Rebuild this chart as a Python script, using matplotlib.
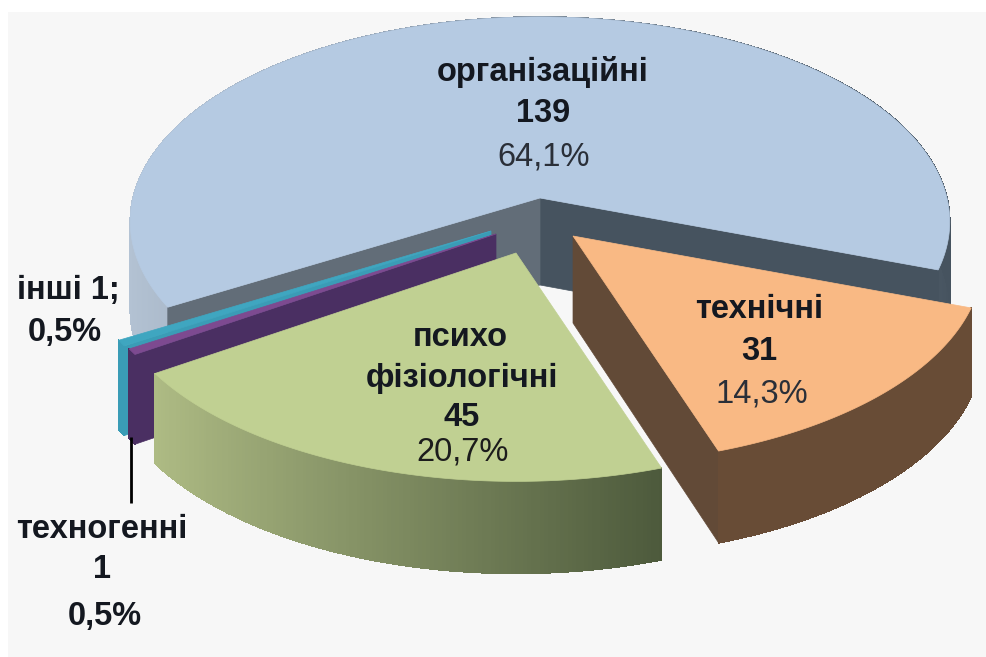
# pie chart of incident causes, drawn as a tilted 3d pie with pulled out slices
import matplotlib
matplotlib.use('Agg')
import matplotlib.pyplot as plt
import numpy as np
from matplotlib.collections import PolyCollection
from matplotlib.patches import Rectangle

categories = ['технічні', 'психо фізіологічні', 'техногенні', 'інші', 'організаційні']
values = [31, 45, 1, 1, 139]
percents = ['14,3%', '20,7%', '0,5%', '0,5%', '64,1%']

# slice styling, same order as categories
topColors = ['#f9b984', '#c0d092', '#7d4a90', '#3fa6c0', '#b5cae2']
rimLeft = ['#684c36', '#aebb84', '#4a2f62', '#3a9cb6', '#b4c3d4']
rimRight = ['#684c36', '#4d5a3c', '#4a2f62', '#3a9cb6', '#46535f']
pullX = [33, -24, -44, -49, 0]
pullY = [38, 55, 36, 33, 0]

# projection of the pie disc onto the picture, in pixels
cx, cy = 540, 198
a, b, k = 407, 202, 0.1156
startAngle = -20.0


def project(t, r=1.0):
    u = r*np.cos(np.radians(t))
    v = r*np.sin(np.radians(t))
    s = 1/(1 + k*v)
    return a*u*s, -b*v*s


def depth(t, r=1.0):
    return 87 - 5*r*np.sin(np.radians(t))


def mix(c1, c2, f):
    c1 = np.array(matplotlib.colors.to_rgb(c1))
    c2 = np.array(matplotlib.colors.to_rgb(c2))
    return tuple(c1 + (c2 - c1)*f)


def drawRim(ax, t0, t1, ox, oy, left, right):
    ts = np.linspace(t0, t1, max(int(abs(t1 - t0))*2, 4))
    us = np.cos(np.radians(ts))
    polys, cols = [], []
    for i in range(len(ts) - 1):
        x0, y0 = project(ts[i])
        x1, y1 = project(ts[i+1])
        d0, d1 = depth(ts[i]), depth(ts[i+1])
        polys.append([(cx+ox+x0, cy+oy+y0), (cx+ox+x1, cy+oy+y1),
                      (cx+ox+x1, cy+oy+y1+d1), (cx+ox+x0, cy+oy+y0+d0)])
        f = (us[i] - us.min())/(us.max() - us.min())
        cols.append(mix(left, right, f))
    # smooth outline under the bands, the bands themselves stay without antialiasing
    xs, ys = project(ts)
    ds = depth(ts)
    ax.fill(np.r_[cx+ox+xs, (cx+ox+xs)[::-1]], np.r_[cy+oy+ys, (cy+oy+ys+ds)[::-1]],
            color=mix(left, right, 0.5), lw=0.5)
    ax.add_collection(PolyCollection(polys, facecolors=cols, edgecolors=cols,
                                     linewidths=0.5, antialiaseds=False))


def drawCut(ax, t, ox, oy, color):
    x, y = project(t)
    d0, d1 = depth(t, 0), depth(t)
    ax.fill([cx+ox, cx+ox+x, cx+ox+x, cx+ox],
            [cy+oy, cy+oy+y, cy+oy+y+d1, cy+oy+d0], color=color, lw=0.5)


def drawTop(ax, t0, t1, ox, oy, color):
    ts = np.linspace(t0, t1, 300)
    xs, ys = project(ts)
    ax.fill(np.r_[cx+ox, cx+ox+xs], np.r_[cy+oy, cy+oy+ys], color=color, lw=0.5)


fig = plt.figure(figsize=(9.86, 6.57), dpi=100)
ax = fig.add_axes([0, 0, 1, 1])
ax.set_xlim(0, 986)
ax.set_ylim(657, 0)
ax.axis('off')
ax.add_patch(Rectangle((8, 12), 978, 645, color='#f7f7f7', lw=0))

# slice angles, going clockwise from the start angle
sweeps = np.array(values)/sum(values)*360
ends = startAngle - np.cumsum(sweeps)
starts = np.r_[startAngle, ends[:-1]]

# back slice first, then the pulled out ones over it
org = 4
drawRim(ax, ends[org], starts[org], pullX[org], pullY[org], rimLeft[org], rimRight[org])
drawCut(ax, ends[org], pullX[org], pullY[org], '#46535f')
drawCut(ax, starts[org], pullX[org], pullY[org], '#626d78')
drawTop(ax, starts[org], ends[org], pullX[org], pullY[org], topColors[org])

for i in [3, 2]:
    drawRim(ax, starts[i], ends[i], pullX[i], pullY[i], rimLeft[i], rimRight[i])
    drawCut(ax, starts[i], pullX[i], pullY[i], rimLeft[i])
    drawTop(ax, starts[i], ends[i], pullX[i], pullY[i], topColors[i])

i = 1
drawRim(ax, starts[i], ends[i], pullX[i], pullY[i], rimLeft[i], rimRight[i])
drawTop(ax, starts[i], ends[i], pullX[i], pullY[i], topColors[i])

i = 0
drawCut(ax, ends[i], pullX[i], pullY[i], '#624a37')
drawRim(ax, starts[i], ends[i], pullX[i], pullY[i], rimLeft[i], rimRight[i])
drawTop(ax, starts[i], ends[i], pullX[i], pullY[i], topColors[i])

# leader line of the small slice
ax.plot([131, 131], [437, 503], color='black', lw=2, solid_capstyle='butt')

# labels
font = dict(family='Liberation Sans', fontsize=23.5, ha='center', va='center')


def label(x, y, text, weight='bold', color='#141820'):
    ax.text(x, y, text, fontweight=weight, color=color, **font)


label(543, 72, categories[4])
label(543, 113, str(values[4]))
label(544, 157, percents[4], 'normal', '#2a2f38')

label(759, 309, categories[0])
label(759, 352, str(values[0]))
label(762, 394, percents[0], 'normal', '#2a2f38')

label(460, 338, 'психо')
label(462, 378, 'фізіологічні')
label(462, 418, str(values[1]))
label(463, 452, percents[1], 'normal', '#1c1c1c')

label(68, 290, categories[3] + ' ' + str(values[3]) + ';')
label(65, 333, percents[3])

label(102, 530, categories[2])
label(102, 570, str(values[2]))
label(105, 616, percents[2])

fig.savefig('out.png', dpi=100)
